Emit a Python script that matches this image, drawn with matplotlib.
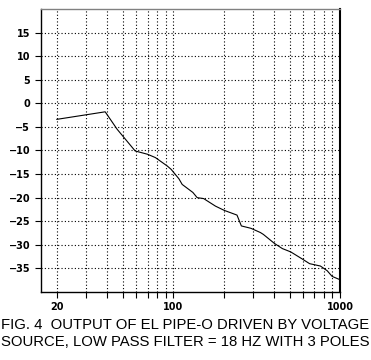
import matplotlib
matplotlib.use("Agg")
import matplotlib.pyplot as plt
from matplotlib.ticker import FixedLocator, NullFormatter

# frequency (Hz) and output level (dB)
freq = [20, 39, 46, 59, 70, 78, 92, 97, 108, 113, 131, 139, 152, 179, 202,
        241, 256, 292, 333, 347, 404, 451, 506, 587, 657, 763, 838, 897, 1000]
level = [-3.4, -1.8, -5.5, -10.1, -10.8, -11.5, -13.3, -14.0, -16.0, -17.2,
         -18.9, -20.0, -20.2, -21.8, -22.7, -23.7, -26.0, -26.5, -27.4, -27.8,
         -29.7, -30.8, -31.5, -32.9, -34.0, -34.5, -35.5, -36.7, -37.4]

x_major = [20, 100, 1000]
x_major_labels = ["20", "100", "1000"]
x_minor = [30, 40, 50, 60, 70, 80, 90, 200, 300, 400, 500, 600, 700, 800, 900]
y_ticks = [-35, -30, -25, -20, -15, -10, -5, 0, 5, 10, 15]

caption = ("FIG. 4  OUTPUT OF EL PIPE-O DRIVEN BY VOLTAGE\n"
           "SOURCE, LOW PASS FILTER = 18 HZ WITH 3 POLES")

fig = plt.figure(figsize=(3.71, 3.6), dpi=100)
ax = fig.add_axes([0.1097, 0.189, 0.8067, 0.786])

ax.plot(freq, level, color="black", linewidth=0.8)

ax.set_xscale("log")
ax.set_xlim(16, 1000)
ax.set_ylim(-40, 20)

ax.xaxis.set_major_locator(FixedLocator(x_major))
ax.set_xticklabels(x_major_labels)
ax.xaxis.set_minor_locator(FixedLocator(x_minor))
ax.xaxis.set_minor_formatter(NullFormatter())
ax.set_yticks(y_ticks)

dots = (0, (1, 2))
for f in x_major[:-1] + x_minor:
    ax.axvline(f, color="black", linestyle=dots, linewidth=0.8, zorder=0)
for v in y_ticks:
    ax.axhline(v, color="black", linestyle=dots, linewidth=0.8, zorder=0)

ax.tick_params(which="both", direction="out", length=4, width=0.8, colors="black")
ax.tick_params(axis="both", labelsize=7)
for lab in ax.get_xticklabels() + ax.get_yticklabels():
    lab.set_fontweight("bold")

ax.spines["top"].set_color("#808080")
ax.spines["top"].set_linewidth(1.0)
ax.spines["right"].set_linewidth(1.5)
ax.spines["left"].set_linewidth(1.0)
ax.spines["bottom"].set_linewidth(1.0)

fig.text(0.5, 0.074, caption, ha="center", va="center", fontsize=10.7,
         family="Liberation Sans", linespacing=1.3)

fig.savefig("out.png", dpi=100)
